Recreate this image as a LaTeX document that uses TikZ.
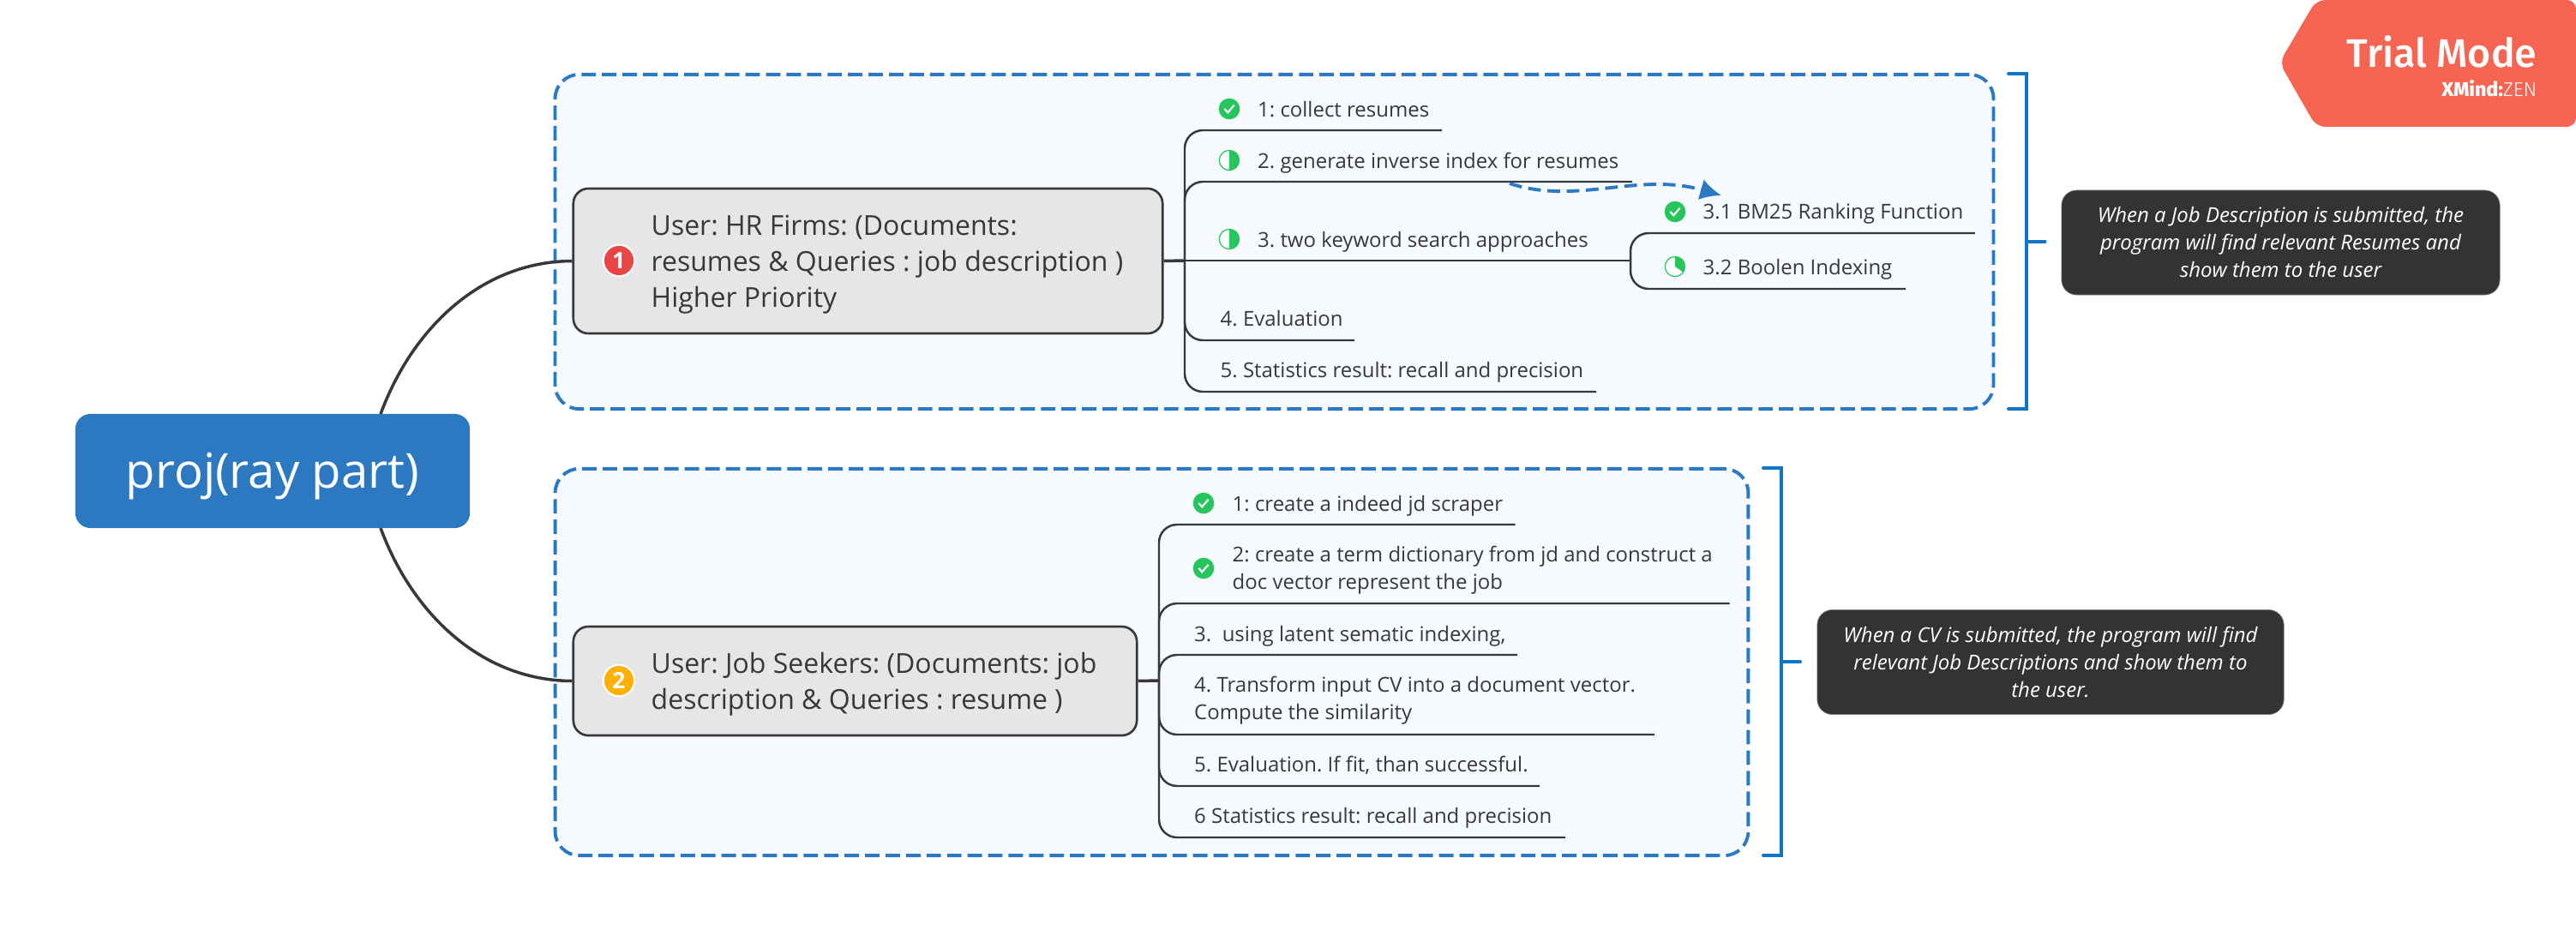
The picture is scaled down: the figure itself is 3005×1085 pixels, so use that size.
\documentclass[tikz,border=0pt]{standalone}
\usepackage{fontspec}
\setmainfont{Open Sans}
\newfontfamily\trialfont[UprightFont=* Medium]{Fira Sans}
\newfontfamily\zenfont[UprightFont=* Light]{Fira Sans}
\usepackage{xcolor}
\usetikzlibrary{arrows.meta}
\definecolor{ink}{HTML}{383838}
\definecolor{rootblue}{HTML}{2C79C1}
\definecolor{dashblue}{HTML}{2B79C2}
\definecolor{bracketblue}{HTML}{0F75C4}
\definecolor{groupfill}{HTML}{F6FAFF}
\definecolor{usergray}{HTML}{E6E6E6}
\definecolor{notedark}{HTML}{333333}
\definecolor{taskgreen}{HTML}{27C65C}
\definecolor{badgered}{HTML}{E84545}
\definecolor{badgeorange}{HTML}{FFB000}
\definecolor{trialred}{HTML}{F56552}
\tikzset{
  groupbox/.style={draw=dashblue, fill=groupfill, line width=1.1pt, rounded corners=8pt, dash pattern=on 4.8pt off 2pt, inner sep=0pt},
  rootbox/.style={fill=rootblue, rounded corners=5pt, text=white, inner sep=0pt, text height=15pt, text depth=3.4pt, font=\fontsize{16}{20}\selectfont},
  userbox/.style={draw=ink, fill=usergray, line width=.75pt, rounded corners=5pt, inner sep=0pt},
  usertext/.style={anchor=west, inner sep=0pt, align=left, text=ink, font=\frenchspacing\fontsize{9.1}{11.95}\selectfont},
  item/.style={anchor=west, inner sep=0pt, align=left, text=ink, font=\frenchspacing\fontsize{6.82}{9.1}\selectfont},
  note/.style={draw=gray, line width=.2pt, fill=notedark, rounded corners=5pt, text=white, inner sep=0pt, align=center, font=\frenchspacing\fontsize{6.82}{9.1}\selectfont\itshape},
  badge/.style={circle, draw=white, line width=.6pt, inner sep=0pt, minimum size=10.4pt, text=white, font=\fontsize{7.5}{8}\selectfont\bfseries},
  donemark/.style={circle, fill=taskgreen, inner sep=0pt, minimum size=7pt, path picture={
    \draw[white, line width=.6pt] ([shift={(-1.6pt,0pt)}]path picture bounding box.center) -- ++(1.1pt,-1.2pt) -- ++(2.1pt,2.4pt);}},
  halfmark/.style={circle, draw=taskgreen, fill=white, line width=.35pt, inner sep=0pt, minimum size=6.6pt, path picture={
    \fill[taskgreen] (path picture bounding box.north) rectangle (path picture bounding box.south east);}},
  octmark/.style={circle, draw=taskgreen, fill=white, line width=.35pt, inner sep=0pt, minimum size=6.6pt, path picture={
    \fill[taskgreen] (path picture bounding box.center) -- ++(90:5pt) arc[start angle=90, end angle=-35, radius=5pt] -- cycle;}},
  branch/.style={draw=ink, line width=.7pt, rounded corners=6pt},
  stem/.style={draw=ink, line width=1pt},
  mainline/.style={draw=ink, line width=1pt},
  bracket/.style={draw=bracketblue, line width=1.15pt, line cap=round},
  jump/.style={draw=dashblue, line width=1.1pt, dash pattern=on 4.2pt off 2.2pt, -{Latex[length=7pt, width=7pt]}}
}
\begin{document}
\begin{tikzpicture}[x=0.01cm, y=-0.01cm]
  \useasboundingbox (0,0) rectangle (3005,1085);
  \node[groupbox, minimum width=16.77cm, minimum height=3.9cm] (hrgroup) at (1486.5,282) {};
  \node[groupbox, minimum width=13.91cm, minimum height=4.51cm] (seekergroup) at (1343.5,772.5) {};
  \node[rootbox, minimum width=4.6cm, minimum height=1.33cm] (root) at (318,549.5) {proj(ray part)};
  \node[userbox, minimum width=6.87cm, minimum height=1.69cm] (hr) at (1012.5,304.5) {};
  \node[userbox, minimum width=6.57cm, minimum height=1.27cm] (seeker) at (997.5,794.5) {};
  \coordinate (rootup) at (444,483);
  \coordinate (rootdown) at (444,616);
  \draw[mainline] (rootup) .. controls (480,385) and (560,305) .. (hr.west);
  \draw[mainline] (rootdown) .. controls (480,714) and (560,794) .. (seeker.west);
  \node[badge, fill=badgered] (hrbadge) at (722,304) {1};
  \node[badge, fill=badgeorange] (seekerbadge) at (722,794) {2};
  \node[usertext] (hrtext) at (759,309) {User: HR Firms: (Documents:\\resumes \& Queries : job description )\\Higher Priority};
  \node[usertext] (seekertext) at (759,798) {User: Job Seekers: (Documents: job\\description \& Queries : resume )};
  \coordinate (hrhub) at (1382,304);
  \coordinate (hr1end) at (1682,152);
  \coordinate (hr2end) at (1904,212);
  \coordinate (hr4end) at (1580,397);
  \coordinate (hr5end) at (1862,457);
  \coordinate (subhub) at (1902,304);
  \coordinate (sub1end) at (2304,272);
  \coordinate (sub2end) at (2223,337);
  \draw[stem] (hr.east) -- (hrhub);
  \draw[branch] (hrhub) |- (hr1end);
  \draw[branch] (hrhub) |- (hr2end);
  \draw[branch] (hrhub) -- (subhub);
  \draw[branch] (hrhub) |- (hr4end);
  \draw[branch] (hrhub) |- (hr5end);
  \draw[branch] (subhub) |- (sub1end);
  \draw[branch] (subhub) |- (sub2end);
  \node[donemark] (hr1mark) at (1434,127) {};
  \node[halfmark] (hr2mark) at (1434,187) {};
  \node[halfmark] (hr3mark) at (1434,279) {};
  \node[donemark] (sub1mark) at (1954,247) {};
  \node[octmark] (sub2mark) at (1954,311) {};
  \node[item] (hr1) at (1466.5,128) {1: collect resumes};
  \node[item] (hr2) at (1466.5,190) {2. generate inverse index for resumes};
  \node[item] (hr3) at (1466.5,282) {3. two keyword search approaches};
  \node[item] (hr4) at (1423,372) {4. Evaluation};
  \node[item] (hr5) at (1423,434) {5. Statistics result: recall and precision};
  \node[item] (sub1) at (1986,249) {3.1 BM25 Ranking Function};
  \node[item] (sub2) at (1986,314) {3.2 Boolen Indexing};
  \coordinate (jumpfrom) at (1761,214);
  \coordinate (jumpto) at (2008,228);
  \draw[jump] (jumpfrom) .. controls (1840,240) and (1910,200) .. (jumpto);
  \coordinate (seekerhub) at (1352,794);
  \coordinate (seeker1end) at (1767.5,612);
  \coordinate (seeker2end) at (2017.5,704);
  \coordinate (seeker3end) at (1770,764);
  \coordinate (seeker4end) at (1930,857);
  \coordinate (seeker5end) at (1796,917);
  \coordinate (seeker6end) at (1826,977);
  \draw[stem] (seeker.east) -- (seekerhub);
  \draw[branch] (seekerhub) |- (seeker1end);
  \draw[branch] (seekerhub) |- (seeker2end);
  \draw[branch] (seekerhub) |- (seeker3end);
  \draw[branch] (seekerhub) |- (seeker4end);
  \draw[branch] (seekerhub) |- (seeker5end);
  \draw[branch] (seekerhub) |- (seeker6end);
  \node[donemark] (seeker1mark) at (1404,587) {};
  \node[donemark] (seeker2mark) at (1404,663) {};
  \node[item] (seeker1) at (1437,590) {1: create a indeed jd scraper};
  \node[item] (seeker2) at (1437,665) {2: create a term dictionary from jd and construct a\\doc vector represent the job};
  \node[item] (seeker3) at (1392.5,742) {3.\ \ using latent sematic indexing,};
  \node[item] (seeker4) at (1392.5,817) {4. Transform input CV into a document vector.\\Compute the similarity};
  \node[item] (seeker5) at (1392.5,893) {5. Evaluation. If fit, than successful.};
  \node[item] (seeker6) at (1392.5,954) {6 Statistics result: recall and precision};
  \coordinate (hrbrtop) at (2343,86);
  \coordinate (hrbrmid) at (2364,282);
  \coordinate (hrbrbot) at (2343,477);
  \coordinate (seekerbrtop) at (2057,546);
  \coordinate (seekerbrmid) at (2078,772);
  \coordinate (seekerbrbot) at (2057,998);
  \draw[bracket] (hrbrtop) -| (hrbrmid) |- (hrbrbot);
  \draw[bracket] (hrbrmid) -- ++(.215cm,0);
  \draw[bracket] (seekerbrtop) -| (seekerbrmid) |- (seekerbrbot);
  \draw[bracket] (seekerbrmid) -- ++(.22cm,0);
  \node[note, minimum width=5.11cm, minimum height=1.22cm] (hrnote) at (2660.5,283) {When a Job Description is submitted, the\\program will find relevant Resumes and\\show them to the user};
  \node[note, minimum width=5.44cm, minimum height=1.22cm] (seekernote) at (2392,772.5) {When a CV is submitted, the program will find\\relevant Job Descriptions and show them to\\the user.};
  \fill[trialred, rounded corners=3pt] (2702,0) -- (3005,0) -- (3005,148) -- (2702,148) -- (2659,73) -- cycle;
  \node[anchor=east, inner sep=0pt, text=white, font=\trialfont\fontsize{13.2}{16}\selectfont] (trial) at (2960,60) {Trial Mode};
  \node[anchor=east, inner sep=0pt, text=white, font=\fontsize{6.6}{7}\selectfont] (xmind) at (2960,103) {{\trialfont\textbf{XMind:}}{\zenfont ZEN}};
\end{tikzpicture}
\end{document}
